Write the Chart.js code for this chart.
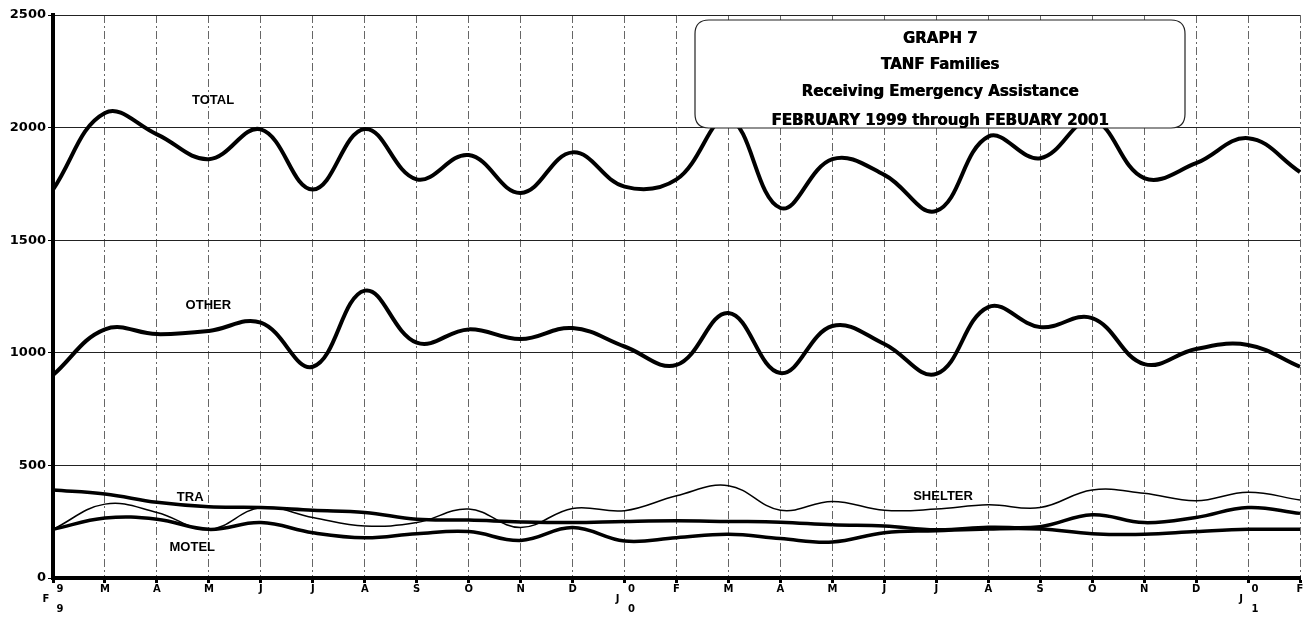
<!DOCTYPE html>
<html><head><meta charset="utf-8">
<script src="https://cdn.jsdelivr.net/npm/chart.js@4.4.0/dist/chart.umd.min.js"></script>
<style>html,body{margin:0;padding:0;background:#fff}#wrap{width:1312px;height:617px}</style>
</head><body><div id="wrap"><canvas id="c" width="1312" height="617"></canvas></div>
<script>
// Categories: months Feb 1999 .. Feb 2001
const months = ['F','M','A','M','J','J','A','S','O','N','D','J','F','M','A','M','J','J','A','S','O','N','D','J','F'];
const yearDigits = {0:['9','9'], 11:['0','0'], 23:['0','1']};
const yTicks = [0, 500, 1000, 1500, 2000, 2500];

const total   = [1725,2065,1970,1860,1992,1725,1994,1770,1878,1710,1890,1738,1770,2040,1643,1860,1790,1630,1960,1864,2034,1776,1842,1953,1803];
const other   = [901,1104,1083,1097,1134,938,1276,1045,1104,1061,1110,1028,946,1177,910,1119,1039,906,1203,1114,1154,950,1017,1035,938];
const tra     = [391,373,336,316,313,301,291,261,257,249,246,251,254,251,248,236,231,214,225,228,281,246,269,313,287];
const shelter = [216,328,291,216,313,269,231,246,306,224,309,299,365,410,301,340,301,306,325,313,391,376,343,381,346];
const motel   = [216,266,261,216,246,201,179,197,206,167,224,164,179,194,175,160,201,210,218,218,197,194,206,216,216];

const seriesNames = ['TOTAL','OTHER','TRA','SHELTER','MOTEL'];
const labelAnchors = [
  {text:'TOTAL', idx:3.08, value:2122},
  {text:'OTHER', idx:2.99, value:1212},
  {text:'TRA', idx:2.64, value:360},
  {text:'MOTEL', idx:2.68, value:138},
  {text:'SHELTER', idx:17.13, value:364}
];
const titleLines = ['GRAPH 7','TANF Families','Receiving Emergency Assistance','FEBRUARY 1999 through FEBUARY 2001'];

const bg = {id:'bg', beforeDraw(c){const x=c.ctx;x.save();x.fillStyle='#fff';x.fillRect(0,0,c.width,c.height);x.restore();}};

const annot = {
  id:'annot',
  afterDatasetsDraw(c){
    const ctx=c.ctx, xs=c.scales.x, ys=c.scales.y;
    ctx.save();
    ctx.fillStyle='#000';
    ctx.font='bold 13px "Liberation Sans", Arial, sans-serif';
    ctx.textAlign='center'; ctx.textBaseline='middle';
    labelAnchors.forEach(l=>{
      const i0=Math.floor(l.idx), f=l.idx-i0;
      const px=xs.getPixelForValue(i0)+(xs.getPixelForValue(i0+1)-xs.getPixelForValue(i0))*f;
      ctx.fillText(l.text, px, ys.getPixelForValue(l.value));
    });
    // title box
    const bx=695, by=20, bw=490, bh=108, r=14;
    ctx.beginPath();
    ctx.moveTo(bx+r,by); ctx.lineTo(bx+bw-r,by); ctx.quadraticCurveTo(bx+bw,by,bx+bw,by+r);
    ctx.lineTo(bx+bw,by+bh-r); ctx.quadraticCurveTo(bx+bw,by+bh,bx+bw-r,by+bh);
    ctx.lineTo(bx+r,by+bh); ctx.quadraticCurveTo(bx,by+bh,bx,by+bh-r);
    ctx.lineTo(bx,by+r); ctx.quadraticCurveTo(bx,by,bx+r,by); ctx.closePath();
    ctx.fillStyle='#fff'; ctx.fill();
    ctx.lineWidth=1.2; ctx.strokeStyle='#222'; ctx.stroke();
    ctx.fillStyle='#000';
    const widths=[85,138,318,388], ys2=[39,65,92,121];
    titleLines.forEach((t,i)=>{
      ctx.font='bold 100px "DejaVu Sans", sans-serif';
      const w=ctx.measureText(t).width;
      const sz=Math.min(15, 100*widths[i]/w);
      ctx.font='bold '+sz.toFixed(2)+'px "DejaVu Sans", sans-serif';
      ctx.fillText(t, bx+bw/2, ys2[i]);
      ctx.fillText(t, bx+bw/2+0.6, ys2[i]);
    });
    ctx.restore();
  }
};

const mk=(name,data,w)=>({label:name,data,borderColor:'#000',backgroundColor:'#000',borderWidth:w,pointRadius:0,tension:0.4,fill:false});

new Chart(document.getElementById('c'),{
  type:'line',
  data:{labels:months, datasets:[
    mk(seriesNames[0],total,4),
    mk(seriesNames[1],other,4),
    mk(seriesNames[2],tra,3.5),
    mk(seriesNames[3],shelter,1.5),
    mk(seriesNames[4],motel,3.5)
  ]},
  options:{
    responsive:false, animation:false, devicePixelRatio:1,
    layout:{padding:{top:15,right:12,left:0,bottom:0}},
    plugins:{legend:{display:false},tooltip:{enabled:false}},
    scales:{
      x:{
        offset:false,
        afterFit(s){s.height=39;},
        border:{display:true,color:'#000',width:4,dash:[8,3,2,3]},
        grid:{color:'#666',lineWidth:1,drawTicks:true,tickLength:5,tickWidth:3,tickColor:'#000'},
        ticks:{autoSkip:false,maxRotation:0,minRotation:0,padding:1,color:'#000',
          font:{family:'"DejaVu Sans", sans-serif',weight:'bold',size:10,lineHeight:1.0},
          callback(v,i){const d=yearDigits[i]; return d?['    '+d[0], months[i]+'    ', '    '+d[1]]:months[i];}}
      },
      y:{
        min:0,max:2500,
        afterFit(s){s.width=53;},
        afterBuildTicks(s){s.ticks=yTicks.map(v=>({value:v}));},
        border:{display:true,color:'#000',width:4},
        grid:{color:'#222',lineWidth:1,drawTicks:true,tickLength:5,tickColor:'#000'},
        ticks:{padding:2,color:'#000',callback:(v)=>String(v),
          font:{family:'"DejaVu Sans", sans-serif',weight:'bold',size:13}}
      }
    }
  },
  plugins:[bg,annot]
});
</script></body></html>
